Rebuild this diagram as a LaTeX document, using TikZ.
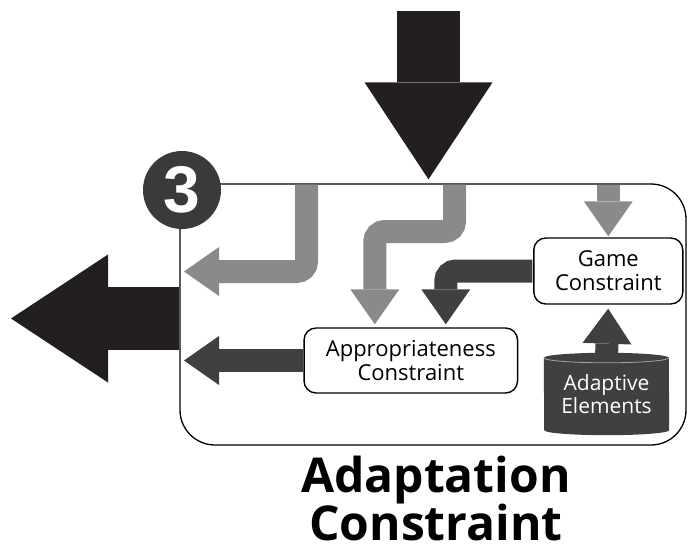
\documentclass[tikz,border=0pt]{standalone}
\usepackage{fontspec}
\usetikzlibrary{arrows.meta,positioning,calc,backgrounds}
\newfontfamily\labelfont{Open Sans}
\newfontfamily\numfont{Liberation Sans}
\definecolor{inkblack}{HTML}{231F20}
\definecolor{flowdark}{HTML}{404041}
\definecolor{flowgray}{HTML}{8A8A8A}
\definecolor{badge}{HTML}{3A3A3A}
\newcommand\captionfont{\labelfont\bfseries\fontsize{48}{48}\selectfont\lineskiplimit-40pt\relax}

\begin{document}
\begin{tikzpicture}[x=1pt,y=-1pt,
  bigarrow/.style={inkblack,line width=63pt,-{Triangle[width=128pt,length=97pt,line width=0pt]}},
  flow/.style={line width=23pt,rounded corners=10pt,-{Triangle[width=49pt,length=35pt,line width=0pt]}},
  cbox/.style={draw,line width=1.4pt,rounded corners=12pt,fill=white,align=center,font=\labelfont\fontsize{22}{24}\selectfont}]
  \useasboundingbox (0,0) rectangle (689,554);

  % outer frame and badge
  \node[draw,line width=1.3pt,rounded corners=35pt,minimum width=506pt,minimum height=261pt] (frame) at (433,314.5) {};
  \node[circle,fill=badge,minimum size=78pt,inner sep=0pt,text=white,font=\numfont\bfseries\fontsize{66}{66}\selectfont] (badge) at (182,190) {3};

  % constraint boxes
  \node[cbox,minimum width=149pt,minimum height=66pt] (game) at (608.3,271) {Game\\Constraint};
  \node[cbox,minimum width=213.5pt,minimum height=65pt] (appr) at (410.8,360.5) {Appropriateness\\Constraint};

  % adaptive elements store
  \node[minimum width=125pt,minimum height=72pt,align=center,text=white,font=\labelfont\fontsize{21}{23}\selectfont] (adapt) at (606.5,394) {Adaptive\\Elements};
  \begin{scope}[on background layer]
    \fill[flowdark] (adapt.north west) arc[start angle=180,end angle=0,x radius=62.5pt,y radius=5pt]
      -- (adapt.south east) arc[start angle=0,end angle=-180,x radius=62.5pt,y radius=5pt] -- cycle;
    \draw[gray!70,line width=0.8pt] (adapt.north west) arc[start angle=180,end angle=360,x radius=62.5pt,y radius=5pt];
  \end{scope}

  % in and out
  \coordinate (srcin) at (428.5,11);
  \coordinate (sinkout) at (11,318.5);
  \draw[bigarrow,shorten >=4pt] (srcin) -- (srcin |- frame.north);
  \draw[bigarrow] (frame.west |- sinkout) -- (sinkout);

  % flows inside
  \coordinate (tap1) at (306.5,184.7);
  \coordinate (tap2) at (454.5,184.7);
  \coordinate (ret1) at (184,271.5);
  \draw[flow,flowgray] (tap1) |- (ret1);
  \draw[flow,flowgray,shorten >=3pt] (tap2) -- ++(0,46.8) -| ([xshift=-36pt]appr.north);
  \draw[flow,flowgray,shorten >=1pt] (game.north |- tap1) -- (game.north);
  \draw[flow,flowdark,shorten <=0.7pt,shorten >=3pt] (game.west) -| ([xshift=35pt]appr.north);
  \draw[flow,flowdark,shorten >=4pt] (adapt.north) -- (game.south);
  \draw[flow,flowdark,shorten <=0.7pt] (appr.west) -- (appr.west -| ret1);

  % caption
  \node[font=\captionfont,align=center,anchor=base,inner sep=0pt] (title) at (436,540) {Adaptation\\Constraint};
\end{tikzpicture}
\end{document}
